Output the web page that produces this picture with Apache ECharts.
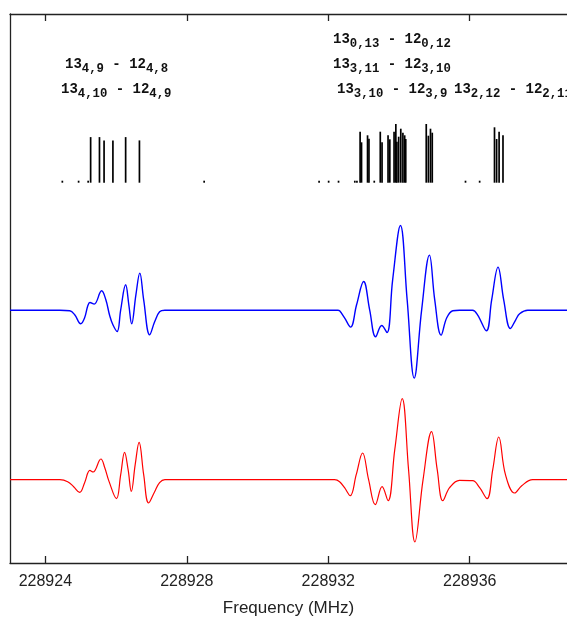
<!DOCTYPE html>
<html><head><meta charset="utf-8">
<script src="https://cdn.jsdelivr.net/npm/echarts@6/dist/echarts.min.js"></script>
<style>html,body{margin:0;padding:0;background:#fff}#c{width:567px;height:617px}</style>
</head><body><div id="c"></div>
<script>
// ---- data ----
const xTicks = [228924, 228928, 228932, 228936];

const stickFreq = [228924.48, 228924.94, 228925.21, 228925.28, 228925.53, 228925.66, 228925.91, 228926.27, 228926.66,
  228928.49, 228931.74, 228932.01, 228932.29, 228932.75, 228932.81,
  228932.90, 228932.94, 228933.11, 228933.15, 228933.30, 228933.47, 228933.52, 228933.69, 228933.74,
  228933.86, 228933.91, 228933.94, 228933.99, 228934.05, 228934.11, 228934.16, 228934.19,
  228934.77, 228934.83, 228934.89, 228934.94, 228935.88, 228936.28,
  228936.70, 228936.76, 228936.83, 228936.94];
const stickInt = [0.2, 0.2, 0.2, 4.56, 4.56, 4.23, 4.23, 4.56, 4.23,
  0.2, 0.2, 0.2, 0.2, 0.2, 0.2,
  5.10, 4.04, 4.74, 4.40, 0.2, 5.10, 4.04, 4.74, 4.34,
  5.10, 5.87, 4.10, 4.60, 5.40, 5.00, 4.74, 4.37,
  5.87, 4.70, 5.40, 5.00, 0.2, 0.2,
  5.54, 4.37, 5.10, 4.74];

const blueFreq = [228923.00, 228924.41, 228924.69, 228924.83, 228925.00, 228925.11, 228925.20, 228925.26, 228925.38,
  228925.59, 228925.71, 228925.82, 228925.91, 228926.03, 228926.13, 228926.27, 228926.36, 228926.44, 228926.56,
  228926.67, 228926.78, 228926.95, 228927.09, 228927.23, 228927.38,
  228932.27, 228932.32, 228932.46, 228932.63, 228932.80, 228933.00, 228933.17, 228933.34, 228933.51, 228933.66,
  228933.82, 228934.04, 228934.23, 228934.43, 228934.64, 228934.86, 228935.01, 228935.19, 228935.35, 228935.52,
  228935.71, 228936.08, 228936.22, 228936.47, 228936.62, 228936.80, 228936.96, 228937.15, 228937.30, 228937.41,
  228937.64, 228938.75];
const blueVal = [0, 0, -0.05, -0.45, -1.35, -0.75, 0.45, 0.78, 0.62,
  1.95, 1.05, -0.55, -1.45, -2.12, 0.05, 2.55, 0.55, -1.35, 1.55,
  3.72, 1.05, -2.45, -1.15, -0.15, 0,
  0, -0.05, -0.75, -1.68, 0.55, 2.88, 0.05, -2.65, -1.52, -2.22,
  3.05, 8.48, 1.05, -6.78, 0.05, 5.52, 1.05, -2.48, -0.75, -0.05,
  0, 0, -0.45, -2.05, 1.05, 4.32, 1.05, -1.82, -0.95, -0.35,
  0, 0];

const redFreq = [228923.00, 228924.41, 228924.63, 228924.80, 228924.97, 228925.11, 228925.26, 228925.35, 228925.57,
  228925.68, 228925.80, 228926.01, 228926.13, 228926.24, 228926.34, 228926.43, 228926.54, 228926.65, 228926.78,
  228926.92, 228927.09, 228927.23, 228927.38,
  228932.18, 228932.32, 228932.46, 228932.62, 228932.79, 228932.97, 228933.14, 228933.33, 228933.52, 228933.69,
  228933.88, 228934.09, 228934.27, 228934.45, 228934.68, 228934.92, 228935.08, 228935.24, 228935.43, 228935.71,
  228936.08, 228936.28, 228936.49, 228936.65, 228936.82, 228937.01, 228937.27, 228937.47, 228937.78, 228938.75];
const redVal = [0, 0, -0.2, -0.7, -1.27, -0.3, 0.93, 0.77, 2.07,
  1.2, -0.17, -1.9, 0.5, 2.73, 1.0, -1.17, 1.5, 3.73, 0.5,
  -2.33, -1.2, -0.3, 0,
  0, -0.2, -0.8, -1.6, 0.5, 2.67, 0, -2.5, -0.7, -2.1,
  3.0, 8.1, 1.0, -6.23, 0, 4.8, 1.0, -2.1, -0.8, -0.07,
  -0.1, -0.8, -1.9, 1.0, 4.27, 0.5, -1.33, -0.6, 0, 0];

const labelTexts = [
  '{m|13}{s|0,13}{m| - 12}{s|0,12}',
  '{m|13}{s|4,9}{m| - 12}{s|4,8}',
  '{m|13}{s|3,11}{m| - 12}{s|3,10}',
  '{m|13}{s|4,10}{m| - 12}{s|4,9}',
  '{m|13}{s|3,10}{m| - 12}{s|3,9}',
  '{m|13}{s|2,12}{m| - 12}{s|2,11}'
];

// ---- layout ----
const X_MIN = 228923, X_MAX = 228938.75;
const RED_BASE = 8.33, BLUE_BASE = 25.27, STICK_BASE = 38.03, Y_MAX = 54.9;
const labelPos = [[333, 32.5], [65, 57.5], [333, 57.5], [61, 82.5], [337, 82.5], [454, 82.5]];
const MONO = 'Liberation Mono';
const RICH = {
  m: {fontFamily: MONO, fontWeight: 'bold', fontSize: 14, lineHeight: 14, verticalAlign: 'top', fill: '#111'},
  s: {fontFamily: MONO, fontWeight: 'bold', fontSize: 12.3, lineHeight: 14, padding: [5, 0, 0, 0], verticalAlign: 'top', fill: '#111'}
};

const chart = echarts.init(document.getElementById('c'));
const axisLineStyle = {color: '#222', width: 1.3};
chart.setOption({
  animation: false,
  backgroundColor: '#fff',
  grid: {left: 10, right: 0, top: 14, bottom: 54, containLabel: false, outerBoundsMode: 'none'},
  xAxis: [{
    type: 'value', min: X_MIN, max: X_MAX, position: 'bottom',
    axisLine: {show: true, lineStyle: axisLineStyle},
    axisTick: {show: true, inside: true, length: 7, customValues: xTicks, lineStyle: axisLineStyle},
    axisLabel: {show: true, customValues: xTicks, formatter: v => String(v), margin: 11,
      color: '#222', fontSize: 16, fontFamily: 'Liberation Sans'},
    splitLine: {show: false},
    name: 'Frequency (MHz)', nameLocation: 'middle', nameGap: 37,
    nameTextStyle: {color: '#222', fontSize: 17, fontFamily: 'Liberation Sans'}
  }, {
    type: 'value', min: X_MIN, max: X_MAX, position: 'top',
    axisLine: {show: true, lineStyle: axisLineStyle},
    axisTick: {show: true, inside: true, length: 7, customValues: xTicks, lineStyle: axisLineStyle},
    axisLabel: {show: false},
    splitLine: {show: false}
  }],
  yAxis: {
    type: 'value', min: 0, max: Y_MAX,
    axisLine: {show: true, lineStyle: axisLineStyle},
    axisTick: {show: false}, axisLabel: {show: false}, splitLine: {show: false}
  },
  series: [{
    type: 'custom',
    data: stickFreq.map((f, i) => [f, stickInt[i]]),
    encode: {x: 0, y: 1},
    renderItem: (params, api) => {
      const f = api.value(0), h = api.value(1);
      const p0 = api.coord([f, STICK_BASE]);
      const p1 = api.coord([f, STICK_BASE + h]);
      return {type: 'line', shape: {x1: p0[0], y1: p0[1], x2: p1[0], y2: p1[1]},
        style: {stroke: '#000', lineWidth: 1.7}};
    }
  }, {
    type: 'line', showSymbol: false, smooth: 0.4,
    data: blueFreq.map((f, i) => [f, BLUE_BASE + blueVal[i]]),
    lineStyle: {color: '#0000ff', width: 1.4}
  }, {
    type: 'line', showSymbol: false, smooth: 0.4,
    data: redFreq.map((f, i) => [f, RED_BASE + redVal[i]]),
    lineStyle: {color: '#ff0000', width: 1.2}
  }],
  graphic: labelTexts.map((t, i) => ({
    type: 'text', x: labelPos[i][0], y: labelPos[i][1], silent: true,
    style: {text: t, rich: RICH, align: 'left', verticalAlign: 'top', fill: '#111'}
  }))
});
</script></body></html>
